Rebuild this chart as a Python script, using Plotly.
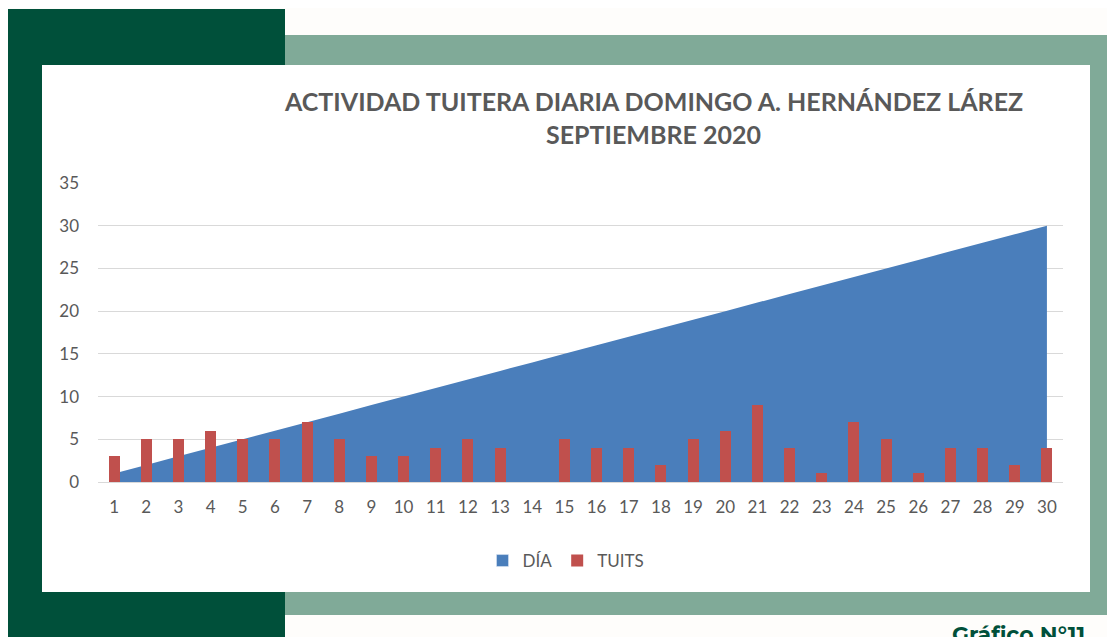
import plotly.graph_objects as go

days = list(range(1, 31))
dia_values = list(range(1, 31))
tuits_values = [3, 5, 5, 6, 5, 5, 7, 5, 3, 3, 4, 5, 4, 0, 5, 4, 4, 2, 5, 6, 9, 4, 1, 7, 5, 1, 4, 4, 2, 4]
y_ticks = [0, 5, 10, 15, 20, 25, 30, 35]
title_line1 = "ACTIVIDAD TUITERA DIARIA DOMINGO A. HERNÁNDEZ LÁREZ"
title_line2 = "SEPTIEMBRE 2020"
footer_text = "Gráfico N°11"

# page has an 8px body margin; work in reference-screen pixels and shift
OFF = 8
W, H = 1115 - OFF, 637 - OFF
PLOT_L, PLOT_R, PLOT_T, PLOT_B = 98, 1063, 183, 482  # in reference pixels
L = PLOT_L - OFF
T = PLOT_T - OFF
R = W - (PLOT_R - OFF)
B = H - (PLOT_B - OFF)
PW, PH = W - L - R, H - T - B


def px(xp):
    return (xp - OFF - L) / PW


def py(yp):
    return (H - B - (yp - OFF)) / PH


GRAY = "#595959"
FONT = "Lato"
BLUE = "#4A7EBB"
RED = "#C0504D"

fig = go.Figure()
fig.add_trace(go.Scatter(
    x=days, y=dia_values, name="DÍA", mode="none", fill="tozeroy",
    fillcolor=BLUE, xaxis="x", yaxis="y", showlegend=False,
))
# legend entry for DÍA drawn as a square swatch, like the reference
fig.add_trace(go.Bar(
    x=[None], y=[None], name="DÍA", marker_color=BLUE, xaxis="x2", yaxis="y2",
    showlegend=True,
))
fig.add_trace(go.Bar(
    x=days, y=tuits_values, name="TUITS", marker=dict(color=RED, line=dict(width=0)),
    width=0.34, xaxis="x2", yaxis="y2",
))

shapes = [
    dict(type="rect", xref="paper", yref="paper", x0=px(8), x1=px(285), y0=py(9), y1=py(660),
         fillcolor="#00503A", line_width=0, layer="below"),
    dict(type="rect", xref="paper", yref="paper", x0=px(285), x1=px(1130), y0=py(35), y1=py(615),
         fillcolor="#80AA98", line_width=0, layer="below"),
    dict(type="rect", xref="paper", yref="paper", x0=px(42), x1=px(1090), y0=py(65), y1=py(592),
         fillcolor="#FFFFFF", line_width=0, layer="below"),
]

annotations = [
    dict(text=title_line1, xref="paper", yref="paper", x=px(653), y=py(101), showarrow=False,
         xanchor="center", yanchor="middle", font=dict(family=FONT, size=25, color=GRAY, weight="bold")),
    dict(text=title_line2, xref="paper", yref="paper", x=px(653), y=py(134), showarrow=False,
         xanchor="center", yanchor="middle", font=dict(family=FONT, size=25, color=GRAY, weight="bold")),
    dict(text=footer_text, xref="paper", yref="paper", x=px(950), y=py(619), showarrow=False,
         xanchor="left", yanchor="top", font=dict(family="Montserrat, Lato", size=22, color="#00503A", weight="bold")),
]

fig.update_layout(
    width=W, height=H,
    margin=dict(l=L, r=R, t=T, b=B),
    paper_bgcolor="#FEFDFB",
    plot_bgcolor="rgba(0,0,0,0)",
    showlegend=True,
    legend=dict(orientation="h", x=px(566), xanchor="center", y=py(561), yanchor="middle",
                font=dict(family=FONT, size=17, color=GRAY), bgcolor="rgba(0,0,0,0)",
                itemwidth=30, traceorder="normal", tracegroupgap=0),
    bargap=0,
    xaxis=dict(range=[0.5, 30.5], tickvals=days, ticktext=[str(d) for d in days],
               showgrid=False, showline=True, linecolor="#D9D9D9", linewidth=1,
               ticks="", tickfont=dict(family=FONT, size=17, color=GRAY), ticklabelstandoff=10,
               zeroline=False),
    yaxis=dict(range=[0, 35], tickvals=y_ticks, showgrid=True, gridcolor="#D9D9D9", gridwidth=1,
               zeroline=False, showline=False, ticks="",
               tickfont=dict(family=FONT, size=17, color=GRAY), ticklabelstandoff=18),
    xaxis2=dict(range=[0.5, 30.5], overlaying="x", visible=False),
    yaxis2=dict(range=[0, 35], overlaying="y", visible=False),
    shapes=shapes,
    annotations=annotations,
)

fig.write_html("out.html")
